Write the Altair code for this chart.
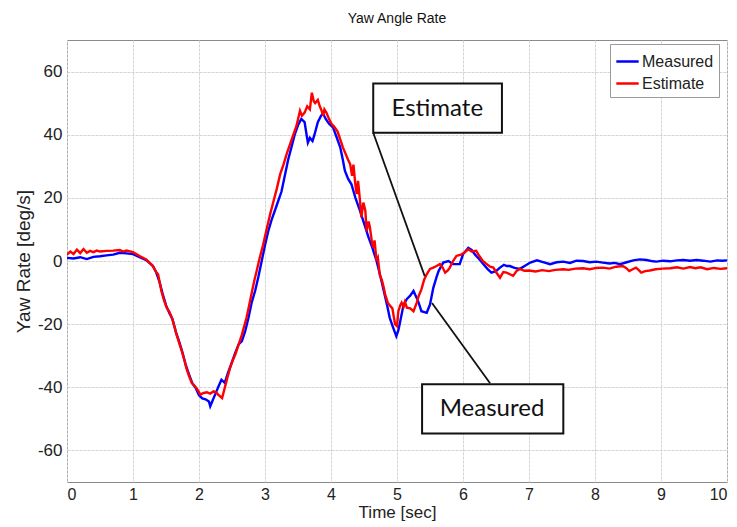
import altair as alt
import pandas as pd

# ---- data ----
meas_t = [0.0,0.1,0.2,0.3,0.4,0.5,0.6,0.7,0.8,0.9,1.0,1.1,1.2,1.3,1.35,1.4,1.45,1.5,1.55,1.6,1.65,1.7,1.75,1.8,1.85,1.9,1.95,2.0,2.05,2.1,2.15,2.17,2.2,2.25,2.3,2.34,2.39,2.44,2.5,2.55,2.6,2.65,2.7,2.75,2.8,2.85,2.9,2.95,3.0,3.05,3.1,3.15,3.2,3.25,3.3,3.35,3.4,3.45,3.5,3.55,3.6,3.63,3.65,3.68,3.72,3.75,3.8,3.85,3.88,3.92,3.97,4.03,4.08,4.14,4.18,4.21,4.26,4.31,4.37,4.44,4.5,4.57,4.63,4.69,4.75,4.8,4.85,4.89,4.94,4.99,5.02,5.05,5.1,5.15,5.2,5.25,5.32,5.37,5.45,5.5,5.55,5.6,5.63,5.7,5.78,5.85,5.95,6.0,6.08,6.13,6.18,6.25,6.31,6.37,6.43,6.5,6.56,6.62,6.66,6.71,6.78,6.86,6.94,7.02,7.12,7.2,7.32,7.42,7.52,7.62,7.72,7.82,7.92,8.02,8.12,8.22,8.3,8.38,8.48,8.58,8.68,8.78,8.88,8.93,9.03,9.14,9.24,9.34,9.44,9.54,9.64,9.75,9.85,9.93,10.0]
meas_v = [1.0,0.8,1.2,0.6,1.3,1.5,1.8,2.0,2.6,2.4,2.2,1.2,0.3,-1.5,-3.5,-6.5,-10.5,-14,-16.5,-18.5,-22.5,-25.5,-29,-33,-36,-38.8,-40.2,-42.5,-43.5,-43.8,-44.5,-46,-44.5,-42,-39.5,-37.6,-38.6,-35.4,-32,-29,-26.4,-25.4,-22.2,-18,-13,-9.5,-5,0,5,9.5,13,16,19,22,27,32,36,40,43,45,44,40,37.5,39,38,40,44,46,46.7,45,43.5,42.3,39.5,36,32,28.6,26,24.3,20,15.9,12,7.4,4,0,-5,-9.5,-14,-18,-21,-23.8,-22,-19,-13.8,-12,-11,-9.5,-12.7,-15.9,-16.4,-13.8,-8.5,-5,-3.2,-0.5,0,-1,-1,2.1,4.2,3.5,2.1,0.5,-1,-2.5,-3.7,-3.2,-2.1,-1.2,-1.6,-1.6,-2.2,-2.5,-1.5,-0.5,0.2,-0.3,-1,-0.4,-0.2,-0.6,0.1,0,-0.4,-0.2,-0.5,-0.8,-0.6,-1,-0.4,0.2,0.5,0.3,-0.1,-0.2,0.1,-0.1,0.2,0.3,0.1,0.3,0.1,-0.2,0.2,0.1,0.2]

est_t = [0.0,0.05,0.1,0.15,0.2,0.25,0.3,0.35,0.4,0.45,0.5,0.6,0.7,0.8,0.85,0.9,1.0,1.1,1.2,1.25,1.3,1.35,1.38,1.43,1.47,1.51,1.55,1.59,1.63,1.66,1.7,1.74,1.78,1.81,1.85,1.89,1.93,1.96,2.0,2.02,2.07,2.12,2.17,2.22,2.26,2.29,2.35,2.39,2.43,2.47,2.51,2.55,2.6,2.65,2.68,2.72,2.76,2.8,2.84,2.87,2.92,2.97,3.03,3.08,3.13,3.18,3.23,3.28,3.33,3.38,3.43,3.48,3.53,3.56,3.6,3.64,3.68,3.71,3.74,3.76,3.8,3.83,3.86,3.88,3.9,3.93,3.97,4.01,4.05,4.1,4.14,4.18,4.22,4.26,4.29,4.32,4.34,4.37,4.39,4.41,4.44,4.46,4.49,4.52,4.54,4.57,4.59,4.62,4.64,4.66,4.69,4.71,4.74,4.77,4.8,4.82,4.86,4.9,4.93,4.97,5.0,5.02,5.05,5.07,5.1,5.12,5.15,5.2,5.25,5.3,5.33,5.37,5.41,5.45,5.5,5.55,5.6,5.65,5.69,5.73,5.77,5.8,5.85,5.9,5.98,6.03,6.08,6.13,6.2,6.25,6.3,6.36,6.41,6.46,6.51,6.56,6.61,6.66,6.71,6.76,6.81,6.86,6.93,7.0,7.1,7.2,7.3,7.4,7.52,7.6,7.7,7.82,7.92,8.02,8.12,8.22,8.32,8.42,8.47,8.52,8.57,8.62,8.66,8.7,8.76,8.83,8.92,9.02,9.14,9.24,9.34,9.44,9.52,9.6,9.7,9.8,9.9,10.0]
est_v = [2,3,2.2,3.6,2.5,3.8,2.6,3.2,2.8,3.3,3.0,3.2,3.3,3.5,3.0,3.3,2.8,1.6,0.5,-0.5,-1.6,-3.5,-4.2,-9.5,-12.5,-14.8,-16,-18,-21,-23.3,-26,-28.6,-31.5,-34,-36.5,-38.6,-39.5,-40.2,-41.5,-42.3,-41.8,-41.6,-42,-41.3,-41.6,-42.3,-43.4,-40.2,-37,-33.9,-31.5,-29.6,-26.5,-23.3,-21,-18,-14,-10,-6,-3.5,1,5,10.5,15,19,23,27.5,30.5,34,37,40,43,47.6,46,47,49,48,53.3,50.5,50,51,49,47.5,46,48,47,45,43.4,42.5,41,38.5,36,34,32,30.7,27,30.5,24,21.2,25.4,19,13.8,18.5,16,9.5,12.5,10.6,6,4.2,6.5,0,1,-4.5,-6,-8.5,-10.6,-13.2,-14.3,-15,-20,-20.6,-16,-14,-13.2,-14.5,-13,-14.8,-15,-15.9,-13.2,-11,-9,-6,-4.2,-2.5,-2.1,-1.6,-1,-2,-3.7,-3,-2.1,0,1.6,2.1,2.8,3.7,3,3.2,1.5,0,-1,-1.8,-2.1,-3.8,-5.3,-3.5,-3.7,-4.2,-4.7,-3.2,-2.5,-3.1,-3,-3.3,-2.9,-3.2,-2.8,-2.6,-2.8,-2.4,-2.3,-2.6,-2.2,-2.1,-2.4,-1.8,-1.6,-2.2,-3.2,-2.6,-2.1,-2.8,-3.7,-3.2,-3.0,-2.6,-2.4,-2.3,-2.0,-2.4,-1.9,-2.3,-2.0,-2.6,-2.2,-2.5,-2.3]

series_names = ["Measured", "Estimate"]
series_colors = ["#0000ff", "#ff0000"]

# annotation callouts
ann_text = ["Estimate", "Measured"]
ann_x = [5.61, 6.44]
ann_y = [48.2, -47.0]
box_x1 = [4.64, 5.38]
box_x2 = [6.59, 7.52]
box_y1 = [40.6, -39.0]
box_y2 = [56.2, -54.6]
lead_x1 = [4.64, 5.53]
lead_y1 = [40.6, -13.3]
lead_x2 = [5.42, 6.41]
lead_y2 = [-4.8, -38.7]

x_ticks = list(range(0, 11))
y_ticks = [-60, -40, -20, 0, 20, 40, 60]

# ---- build tables ----
df = pd.concat([
    pd.DataFrame({"t": meas_t, "v": meas_v, "series": "Measured", "order": 0}),
    pd.DataFrame({"t": est_t, "v": est_v, "series": "Estimate", "order": 1}),
])
ann = pd.DataFrame({"text": ann_text, "x": ann_x, "y": ann_y,
                    "bx1": box_x1, "bx2": box_x2, "by1": box_y1, "by2": box_y2,
                    "lx1": lead_x1, "ly1": lead_y1, "lx2": lead_x2, "ly2": lead_y2})

font = "Liberation Sans"
xscale = alt.Scale(domain=[0, 10], nice=False, zero=False)
yscale = alt.Scale(domain=[-70, 70], nice=False, zero=False)

lines = alt.Chart(df).mark_line(strokeWidth=2.4, clip=True).encode(
    x=alt.X("t:Q", scale=xscale,
            axis=alt.Axis(values=x_ticks, labelExpr="'' + datum.value",
                          title="Time [sec]", labelFontSize=16,
                          titleFontSize=17, labelPadding=4, titlePadding=2)),
    y=alt.Y("v:Q", scale=yscale,
            axis=alt.Axis(values=y_ticks, labelExpr="'' + datum.value",
                          title="Yaw Rate [deg/s]", labelFontSize=17,
                          titleFontSize=19, labelPadding=5, titlePadding=4)),
    color=alt.Color("series:N",
                    scale=alt.Scale(domain=series_names, range=series_colors),
                    legend=alt.Legend(title=None, orient="none", legendX=543, legendY=4,
                                      symbolType="stroke", symbolSize=500,
                                      symbolStrokeWidth=2.5, labelFont=font,
                                      labelFontSize=16, labelColor="#222",
                                      strokeColor="#9a9a9a", fillColor="white",
                                      padding=5, rowPadding=1, labelOffset=2,
                                      symbolOffset=0)),
    order=alt.Order("order:Q"),
    detail="series:N",
)

boxes = alt.Chart(ann).mark_rect(fill="white", stroke="#111", strokeWidth=2).encode(
    x="bx1:Q", x2="bx2:Q", y="by1:Q", y2="by2:Q")

leaders = alt.Chart(ann).mark_rule(color="#111", strokeWidth=1.8).encode(
    x="lx1:Q", y="ly1:Q", x2="lx2:Q", y2="ly2:Q")

labels = alt.Chart(ann).mark_text(font="Lato", fontSize=24, color="#111",
                                  align="center", baseline="middle").encode(
    x="x:Q", y="y:Q", text="text:N")

chart = alt.layer(lines, leaders, boxes, labels).properties(
    width=660, height=442,
    title=alt.Title("Yaw Angle Rate", font=font, fontSize=14, fontWeight="normal",
                    color="#111", anchor="middle", offset=14),
    autosize=alt.AutoSizeParams(type="none"),
    padding={"left": 67, "top": 40, "right": 10, "bottom": 45},
).configure_view(stroke="#8a8a8a", strokeWidth=1).configure_axis(
    grid=True, gridColor="#d4d4d4", gridDash=[3, 1], gridWidth=1,
    domain=False, ticks=False,
    labelFont=font, labelColor="#222",
    titleFont=font, titleColor="#222", titleFontWeight="normal",
)

chart.save("out.html", embed_options={"renderer": "svg", "actions": False})
